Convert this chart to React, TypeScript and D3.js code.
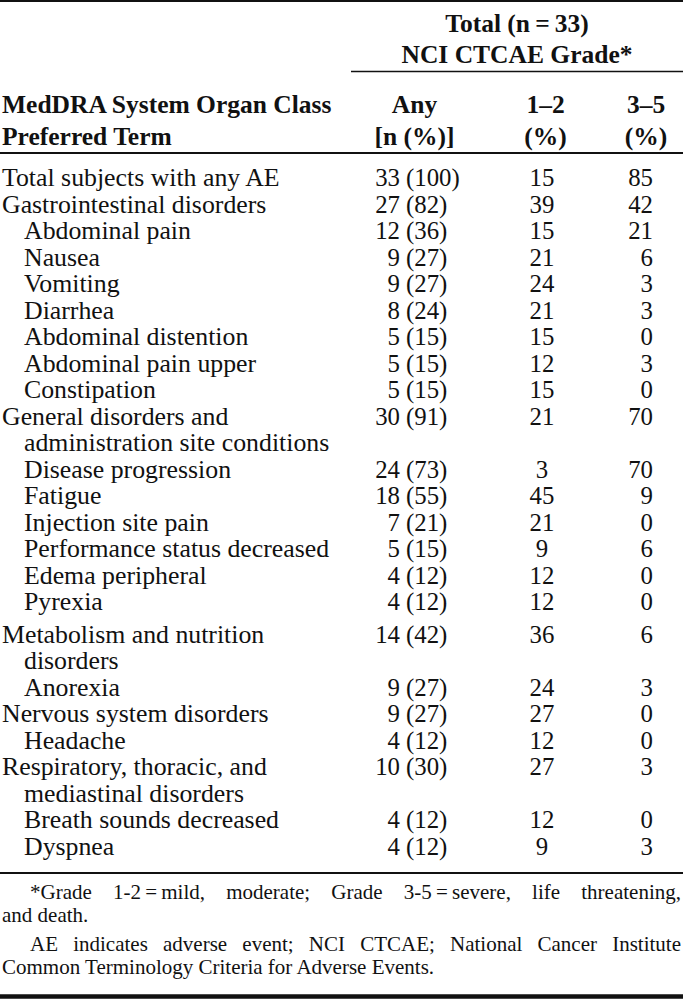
// @ts-nocheck
import { useRef, useEffect } from "react";
import * as d3 from "d3";

// table rows (a "\n" marks where the printed label wraps)
const terms = [
  "Total subjects with any AE",
  "Gastrointestinal disorders",
  "Abdominal pain",
  "Nausea",
  "Vomiting",
  "Diarrhea",
  "Abdominal distention",
  "Abdominal pain upper",
  "Constipation",
  "General disorders and\nadministration site conditions",
  "Disease progression",
  "Fatigue",
  "Injection site pain",
  "Performance status decreased",
  "Edema peripheral",
  "Pyrexia",
  "Metabolism and nutrition\ndisorders",
  "Anorexia",
  "Nervous system disorders",
  "Headache",
  "Respiratory, thoracic, and\nmediastinal disorders",
  "Breath sounds decreased",
  "Dyspnea",
];
const levels = [0, 0, 1, 1, 1, 1, 1, 1, 1, 0, 1, 1, 1, 1, 1, 1, 0, 1, 0, 1, 0, 1, 1];
const anyN = [33, 27, 12, 9, 9, 8, 5, 5, 5, 30, 24, 18, 7, 5, 4, 4, 14, 9, 9, 4, 10, 4, 4];
const anyPct = [100, 82, 36, 27, 27, 24, 15, 15, 15, 91, 73, 55, 21, 15, 12, 12, 42, 27, 27, 12, 30, 12, 12];
const grade12 = [15, 39, 15, 21, 24, 21, 15, 12, 15, 21, 3, 45, 21, 9, 12, 12, 36, 24, 27, 12, 27, 12, 9];
const grade35 = [85, 42, 21, 6, 3, 3, 0, 3, 0, 70, 70, 9, 0, 6, 0, 0, 6, 3, 0, 0, 3, 0, 3];

const spanHead = ["Total (n\u2009=\u200933)", "NCI CTCAE Grade*"];
const colHeads = [
  ["MedDRA System Organ Class", "Preferred Term"],
  ["Any", "[n (%)]"],
  ["1–2", "(%)"],
  ["3–5", "(%)"],
];
const notes = [
  { text: "*Grade 1-2\u2009=\u2009mild, moderate; Grade 3-5\u2009=\u2009severe, life threatening,", indent: true, justify: true },
  { text: "and death.", indent: false, justify: false },
  { text: "AE indicates adverse event; NCI CTCAE; National Cancer Institute", indent: true, justify: true },
  { text: "Common Terminology Criteria for Adverse Events.", indent: false, justify: false },
];

const W = 683;
const H = 1000;
const FONT = "'Liberation Serif', 'Times New Roman', serif";

export default function App() {
  const ref = useRef(null);

  useEffect(() => {
    const svg = d3.select(ref.current);
    svg.selectAll("*").remove();

    // break rows into printed lines
    const lines = [];
    terms.forEach((t, i) => {
      t.split("\n").forEach((part, k) => {
        lines.push({ row: i, text: part, first: k === 0, level: k === 0 ? levels[i] : 1 });
      });
    });
    // the scan has a little extra air above the Metabolism block
    const gapLine = lines.findIndex((l) => l.text.startsWith("Metabolism"));
    const y = d3.scaleLinear().domain([0, lines.length - 1]).range([186, 186 + (lines.length - 1) * 26.5]);
    const yLine = (i) => y(i) + (i >= gapLine ? 6 : 0);

    const x = { label: 2, indent: 24, anyN: 400, anyPct: 406, g12: 542, g35: 653 };
    const headX = [2, 414.5, 545.5, 646];

    const rule = (x1, x2, yy, w) =>
      svg.append("line").attr("x1", x1).attr("x2", x2).attr("y1", yy).attr("y2", yy)
        .attr("stroke", "#111").attr("stroke-width", w);

    rule(0, W, 1, 2);
    rule(351, W, 71.5, 1.6);
    rule(0, W, 153, 2.2);
    rule(0, W, 873, 2.2);
    rule(0, W, 996.5, 4.5);

    const txt = svg.append("g").attr("font-family", FONT).attr("fill", "#111");

    // spanning header
    txt.selectAll("text.span").data(spanHead).join("text")
      .attr("class", "span")
      .attr("x", 517)
      .attr("y", (d, i) => 32 + i * 31)
      .attr("text-anchor", "middle")
      .attr("font-size", 25.5)
      .attr("font-weight", "bold")
      .text((d) => d);

    // column heads
    colHeads.forEach((pair, c) => {
      txt.selectAll(`text.h${c}`).data(pair).join("text")
        .attr("class", `h${c}`)
        .attr("x", headX[c])
        .attr("y", (d, i) => 113 + i * 32)
        .attr("text-anchor", c === 0 ? "start" : "middle")
        .attr("font-size", 25.5)
        .attr("font-weight", "bold")
        .text((d) => d);
    });

    // body labels
    txt.selectAll("text.lab").data(lines).join("text")
      .attr("class", "lab")
      .attr("x", (d) => (d.level ? x.indent : x.label))
      .attr("y", (d, i) => yLine(i))
      .attr("font-size", 25.8)
      .text((d) => d.text);

    const firstLines = lines.map((l, i) => ({ ...l, i })).filter((l) => l.first);
    const cell = (cls, xx, anchor, fn) =>
      txt.selectAll(`text.${cls}`).data(firstLines).join("text")
        .attr("class", cls)
        .attr("x", xx)
        .attr("y", (d) => yLine(d.i))
        .attr("text-anchor", anchor)
        .attr("font-size", 24.8)
        .text(fn);

    cell("an", x.anyN, "end", (d) => anyN[d.row]);
    cell("ap", x.anyPct, "start", (d) => `(${anyPct[d.row]})`);
    cell("g12", x.g12, "middle", (d) => grade12[d.row]);
    cell("g35", x.g35, "end", (d) => grade35[d.row]);

    // footnotes, justified like the print
    const noteY = [899, 922, 951, 974];
    const nt = txt.selectAll("text.note").data(notes).join("text")
      .attr("class", "note")
      .attr("x", (d) => (d.indent ? 30 : 2))
      .attr("y", (d, i) => noteY[i])
      .attr("font-size", 21)
      .text((d) => d.text);
    nt.each(function (d) {
      if (!d.justify) return;
      const len = this.getComputedTextLength();
      const spaces = (d.text.match(/ /g) || []).length;
      const target = 681 - (d.indent ? 30 : 2);
      d3.select(this).attr("word-spacing", (target - len) / spaces);
    });
  }, []);

  return (
    <div style={{ position: "absolute", left: 0, top: 0 }}>
      <svg ref={ref} width={W} height={H} style={{ display: "block", background: "#fff" }}></svg>
    </div>
  );
}
